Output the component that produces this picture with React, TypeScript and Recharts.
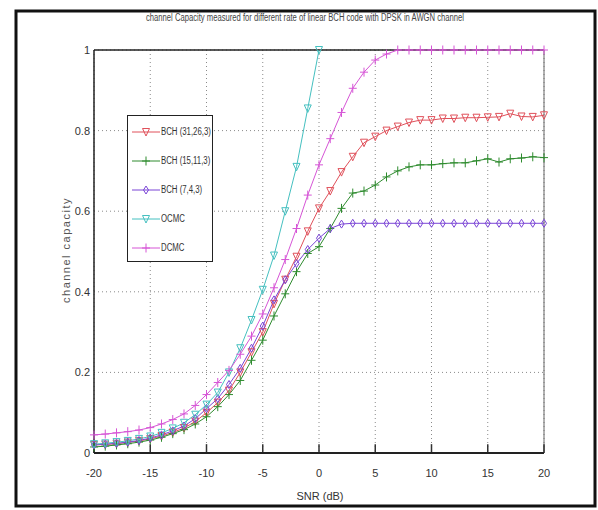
import React from 'react';
import {
  LineChart,
  Line,
  XAxis,
  YAxis,
  CartesianGrid,
  ReferenceLine,
} from 'recharts';

const snr = [-20, -19, -18, -17, -16, -15, -14, -13, -12, -11, -10, -9, -8, -7, -6, -5, -4, -3, -2, -1, 0,
  1, 2, 3, 4, 5, 6, 7, 8, 9, 10, 11, 12, 13, 14, 15, 16, 17, 18, 19, 20];

const bch31 = [0.02, 0.021, 0.023, 0.026, 0.03, 0.035, 0.042, 0.051, 0.062, 0.078, 0.1,
  0.125, 0.155, 0.2, 0.25, 0.3, 0.37, 0.43, 0.487, 0.55, 0.607,
  0.65, 0.697, 0.735, 0.77, 0.785, 0.8, 0.81, 0.82, 0.826, 0.826,
  0.83, 0.83, 0.832, 0.832, 0.833, 0.834, 0.842, 0.835, 0.834, 0.838];

const bch15 = [0.015, 0.017, 0.02, 0.023, 0.027, 0.032, 0.039, 0.048, 0.058, 0.072, 0.09,
  0.115, 0.145, 0.18, 0.23, 0.28, 0.34, 0.395, 0.45, 0.495, 0.512,
  0.557, 0.607, 0.645, 0.65, 0.665, 0.685, 0.7, 0.71, 0.715, 0.715,
  0.718, 0.72, 0.72, 0.725, 0.73, 0.722, 0.73, 0.732, 0.735, 0.733];

const bch7 = [0.02, 0.022, 0.024, 0.027, 0.031, 0.037, 0.045, 0.055, 0.067, 0.085, 0.11,
  0.135, 0.17, 0.21, 0.26, 0.315, 0.38, 0.43, 0.47, 0.505, 0.533,
  0.557, 0.568, 0.57, 0.57, 0.57, 0.57, 0.57, 0.57, 0.57, 0.57,
  0.57, 0.57, 0.57, 0.57, 0.57, 0.57, 0.57, 0.57, 0.57, 0.57];

const ocmc = [0.022, 0.024, 0.027, 0.03, 0.035, 0.041, 0.05, 0.061, 0.075, 0.095, 0.12,
  0.15, 0.2, 0.26, 0.33, 0.405, 0.49, 0.6, 0.71, 0.855, 1,
  null, null, null, null, null, null, null, null, null, null,
  null, null, null, null, null, null, null, null, null, null];

const dcmc = [0.045, 0.047, 0.05, 0.053, 0.057, 0.063, 0.072, 0.083, 0.097, 0.118, 0.145,
  0.175, 0.205, 0.245, 0.29, 0.345, 0.41, 0.48, 0.557, 0.64, 0.715,
  0.78, 0.845, 0.905, 0.945, 0.975, 0.99, 1, 1, 1, 1,
  1, 1, 1, 1, 1, 1, 1, 1, 1, 1];

const xTicks = [-20, -15, -10, -5, 0, 5, 10, 15, 20];
const yTicks = [0, 0.2, 0.4, 0.6, 0.8, 1];

const data = snr.map((s, i) => ({
  snr: s,
  bch31: bch31[i],
  bch15: bch15[i],
  bch7: bch7[i],
  ocmc: ocmc[i],
  dcmc: dcmc[i],
}));

type Shape = 'tri' | 'plus' | 'diamond';

const marker = (shape: Shape, cx: number, cy: number, color: string) => {
  if (shape === 'tri') {
    return <path d={`M${cx - 3.5},${cy - 3.5} L${cx + 3.5},${cy - 3.5} L${cx},${cy + 4} Z`} fill="none" stroke={color} strokeWidth={1} />;
  }
  if (shape === 'diamond') {
    return <path d={`M${cx},${cy - 4} L${cx + 2.5},${cy} L${cx},${cy + 4} L${cx - 2.5},${cy} Z`} fill="none" stroke={color} strokeWidth={1} />;
  }
  return <path d={`M${cx - 4},${cy} H${cx + 4} M${cx},${cy - 4.5} V${cy + 4.5}`} fill="none" stroke={color} strokeWidth={1} />;
};

const dotFor = (shape: Shape, color: string) => (props: any) => {
  const { cx, cy, index, value } = props;
  if (cx == null || cy == null || value == null) return <g key={`d-${index}`} />;
  return <g key={`d-${index}`}>{marker(shape, cx, cy, color)}</g>;
};

const series = [
  { key: 'bch31', name: 'BCH (31,26,3)', color: '#e0505a', shape: 'tri' as Shape },
  { key: 'bch15', name: 'BCH (15,11,3)', color: '#2e8b2e', shape: 'plus' as Shape },
  { key: 'bch7', name: 'BCH (7,4,3)', color: '#7b45d6', shape: 'diamond' as Shape },
  { key: 'ocmc', name: 'OCMC', color: '#45c0c0', shape: 'tri' as Shape },
  { key: 'dcmc', name: 'DCMC', color: '#d655d6', shape: 'plus' as Shape },
];

const font = '"Liberation Sans", Arial, sans-serif';

// legend drawn by hand so it doesn't push the plot area around
const LegendBox = () => (
  <div style={{
    position: 'absolute', left: 127, top: 115,
    width: 86, height: 147, border: '1.5px solid #222', background: '#fff',
    boxSizing: 'border-box', paddingTop: 1,
  }}>
    {series.map((s) => (
      <div key={s.key} style={{ display: 'flex', alignItems: 'center', height: 29 }}>
        <svg width={30} height={12} style={{ marginLeft: 3, flex: 'none' }}>
          <line x1={1} y1={6} x2={29} y2={6} stroke={s.color} strokeWidth={1} />
          {marker(s.shape, 15, 6, s.color)}
        </svg>
        <span style={{
          fontFamily: font, fontSize: 10, color: '#333', whiteSpace: 'nowrap',
          display: 'inline-block', transform: 'scaleX(0.78)', transformOrigin: 'left center',
        }}>{s.name}</span>
      </div>
    ))}
  </div>
);

export default function App() {
  return (
    <div style={{ position: 'absolute', left: 0, top: 0, width: 598, height: 510, background: '#fff', overflow: 'hidden' }}>
      <LineChart
        width={598}
        height={510}
        data={data}
        margin={{ top: 50, right: 54, left: 64, bottom: 27 }}
      >
        <CartesianGrid stroke="#8a8a8a" strokeDasharray="1 3" />
        <XAxis
          dataKey="snr"
          type="number"
          domain={[-20, 20]}
          ticks={xTicks}
          height={30}
          tickLine={false}
          axisLine={{ stroke: '#222', strokeWidth: 2 }}
          tick={{ fill: '#333', fontSize: 11, fontFamily: font }}
          tickMargin={10}
        />
        <YAxis
          type="number"
          domain={[0, 1]}
          ticks={yTicks}
          width={30}
          tickLine={false}
          tickSize={3}
          axisLine={{ stroke: '#222', strokeWidth: 1.5 }}
          tick={{ fill: '#333', fontSize: 11, fontFamily: font }}
          tickFormatter={(v: number) => String(v)}
          tickMargin={1}
        />
        <ReferenceLine y={1} stroke="#222" strokeWidth={1.5} />
        <ReferenceLine x={20} stroke="#666" strokeWidth={1} />
        {xTicks.map((t) => (
          <ReferenceLine key={`xt-${t}`} segment={[{ x: t, y: 0 }, { x: t, y: 0.022 }]} stroke="#333" strokeWidth={1.5} />
        ))}
        {series.map((s) => (
          <Line
            key={s.key}
            dataKey={s.key}
            name={s.name}
            stroke={s.color}
            strokeWidth={1}
            type="linear"
            dot={dotFor(s.shape, s.color)}
            activeDot={false}
            connectNulls={false}
            isAnimationActive={false}
          />
        ))}
      </LineChart>
      <LegendBox />
      <svg width={598} height={510} style={{ position: 'absolute', left: 0, top: 0, pointerEvents: 'none' }}>
        <rect x={16} y={11} width={579} height={495} fill="none" stroke="#111" strokeWidth={3} />
        <text x={305} y={21} textAnchor="middle" fontSize={10} fontFamily={font} fill="#444" textLength={318} lengthAdjust="spacingAndGlyphs">
          channel Capacity measured for different rate of linear BCH code with DPSK in AWGN channel
        </text>
        <text x={320} y={500} textAnchor="middle" fontSize={11} fontFamily={font} fill="#333">SNR (dB)</text>
        <text x={70} y={250} textAnchor="middle" fontSize={11} fontFamily={font} fill="#555" letterSpacing={1.5}
          transform="rotate(-90 70 250)">channel capacity</text>
      </svg>
    </div>
  );
}
